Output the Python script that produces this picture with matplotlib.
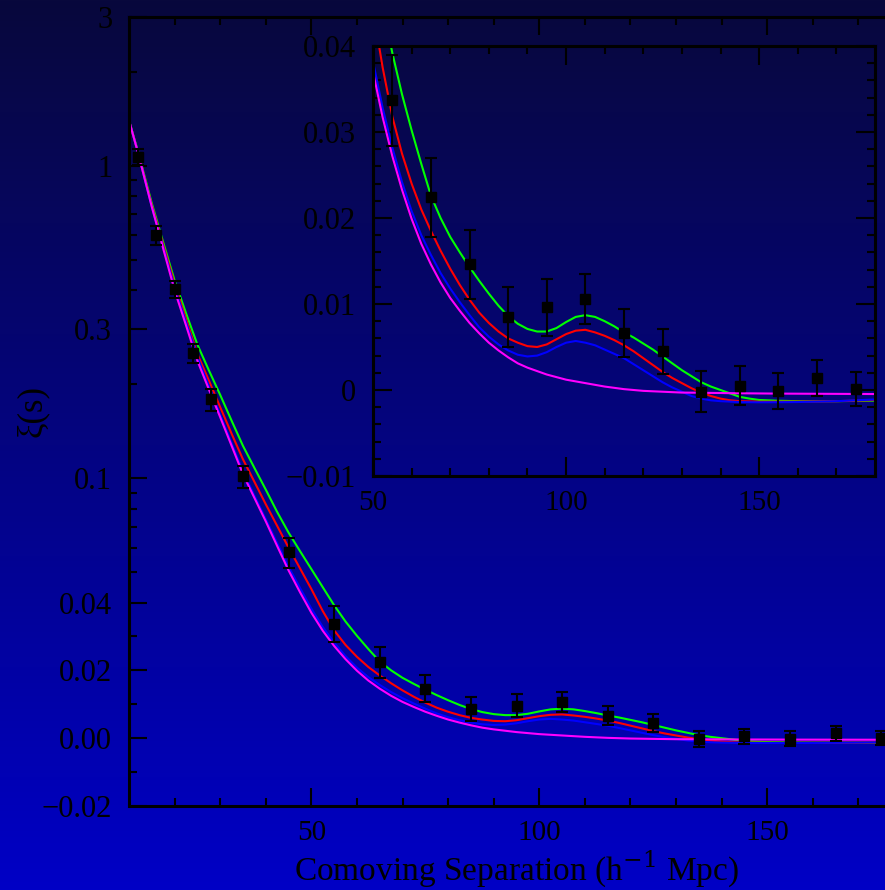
import numpy as np
import matplotlib
matplotlib.use("Agg")
import matplotlib.pyplot as plt

plt.rcParams['font.family'] = ['Liberation Serif', 'DejaVu Serif']
plt.rcParams['mathtext.fontset'] = 'dejavuserif'

# measured correlation function (points with error bars)
sep = [12, 16, 20, 24, 28, 35, 45, 55, 65, 75, 85, 95, 105, 115, 125, 135, 145, 155, 165, 175]
xi = [1.07, 0.60, 0.404, 0.251, 0.179, 0.1015, 0.058, 0.0337, 0.0224, 0.0146, 0.0085, 0.0096,
      0.0106, 0.0066, 0.0045, -0.0002, 0.0005, -0.0001, 0.0014, 0.0001]
xi_err = [0.065, 0.042, 0.025, 0.0175, 0.0145, 0.0083, 0.0062, 0.0053, 0.0046, 0.0040, 0.0035,
          0.0033, 0.0029, 0.0028, 0.0026, 0.0024, 0.0023, 0.0021, 0.0021, 0.0020]

# model curves
s_model = [10, 12, 15, 17.5, 20, 22.5, 25, 27.5, 30, 32.5, 35, 37.5, 40, 42.5, 45, 47.5,
           50, 52.5, 55, 57.5, 60, 62.5, 65, 67.5, 70, 72.5, 75, 77.5, 80, 82.5, 85, 87.5,
           90, 92.5, 95, 97.5, 100, 102.5, 105, 107.5, 110, 112.5, 115, 117.5, 120, 122.5,
           125, 127.5, 130, 132.5, 135, 137.5, 140, 142.5, 145, 147.5, 150, 155, 160, 170, 180]
xi_green = [1.40, 1.11, 0.76, 0.57, 0.43, 0.338, 0.268, 0.222, 0.185, 0.153, 0.127, 0.108,
            0.092, 0.078, 0.067, 0.0585, 0.0512, 0.0448, 0.0392, 0.0344, 0.0302, 0.0263,
            0.0226, 0.0200, 0.0178, 0.0160, 0.0143, 0.0127, 0.0112, 0.0098, 0.0086, 0.0077,
            0.0071, 0.0068, 0.0068, 0.0072, 0.0079, 0.0085, 0.0087, 0.0085, 0.0080, 0.0074,
            0.0067, 0.0061, 0.0054, 0.0047, 0.0039, 0.0031, 0.0023, 0.0016, 0.0009, 0.0004,
            0.0000, -0.0004, -0.0008, -0.0010, -0.00116, -0.00125, -0.0013, -0.0013, -0.00124]
xi_red = [1.40, 1.10, 0.75, 0.56, 0.42, 0.324, 0.250, 0.206, 0.169, 0.139, 0.115, 0.0975,
          0.0826, 0.0704, 0.060, 0.0515, 0.0442, 0.0375, 0.0318, 0.0275, 0.0240, 0.0210,
          0.0185, 0.0162, 0.0141, 0.0122, 0.0105, 0.0090, 0.0078, 0.0068, 0.0060, 0.0055,
          0.0051, 0.0050, 0.0053, 0.0059, 0.0065, 0.0069, 0.0070, 0.0067, 0.0063, 0.0058,
          0.0052, 0.0045, 0.0037, 0.0029, 0.0021, 0.0014, 0.0008, 0.0002, -0.0003, -0.0007,
          -0.0010, -0.0012, -0.0013, -0.00133, -0.00136, -0.00136, -0.00135, -0.0013, -0.00117]
xi_blue = [1.40, 1.10, 0.74, 0.551, 0.41, 0.317, 0.245, 0.198, 0.160, 0.1296, 0.105, 0.0881,
           0.074, 0.062, 0.052, 0.0446, 0.0382, 0.0328, 0.0282, 0.0242, 0.0208, 0.0180,
           0.0157, 0.0136, 0.0118, 0.0102, 0.0087, 0.0073, 0.0062, 0.0053, 0.0046, 0.0041,
           0.0039, 0.0040, 0.0044, 0.0050, 0.0055, 0.0057, 0.0055, 0.0052, 0.0047, 0.0042,
           0.0037, 0.0030, 0.0023, 0.0016, 0.0009, 0.0003, -0.0002, -0.0007, -0.0010, -0.0012,
           -0.0013, -0.00135, -0.0014, -0.00142, -0.00143, -0.00142, -0.0014, -0.0013, -0.0011]
xi_magenta = [1.40, 1.10, 0.74, 0.544, 0.40, 0.309, 0.238, 0.193, 0.157, 0.1272, 0.103,
              0.0866, 0.0728, 0.0607, 0.0507, 0.0432, 0.0370, 0.0317, 0.0272, 0.0233, 0.0199,
              0.0170, 0.0146, 0.0125, 0.0107, 0.0092, 0.0078, 0.0066, 0.0055, 0.0046, 0.0038,
              0.0031, 0.0026, 0.0022, 0.0018, 0.0015, 0.0012, 0.0010, 0.0008, 0.0006, 0.0004,
              0.00025, 0.0001, 0.0000, -0.0001, -0.00015, -0.0002, -0.00025, -0.0003, -0.00031,
              -0.00032, -0.00034, -0.00035, -0.00037, -0.00038, -0.00039, -0.0004, -0.00042,
              -0.00043, -0.00045, -0.00047]

main_yticks = [3, 1, 0.3, 0.1, 0.04, 0.02, 0.0, -0.02]
main_ylabels = ["3", "1", "0.3", "0.1", "0.04", "0.02", "0.00", "\u22120.02"]
main_yminor = [2, 0.9, 0.8, 0.7, 0.6, 0.5, 0.4, 0.2, 0.09, 0.08, 0.07, 0.06, 0.05,
               0.03, 0.01, -0.01]
inset_yticks = [0.04, 0.03, 0.02, 0.01, 0.0, -0.01]
inset_ylabels = ["0.04", "0.03", "0.02", "0.01", "0", "\u22120.01"]
xticks = [50, 100, 150]

fig = plt.figure(figsize=(8.85, 8.9), dpi=100)

# background gradient
bg = fig.add_axes([0, 0, 1, 1], zorder=-10)
t = np.linspace(0, 1, 300)[:, None, None]
top_c = np.array([8, 8, 60]) / 255.0
bot_c = np.array([0, 0, 198]) / 255.0
bg.imshow(top_c + (bot_c - top_c) * t, aspect='auto', extent=[0, 1, 0, 1])
bg.axis('off')


def style_axes(ax, fs, major_len):
    ax.set_facecolor('none')
    for sp in ax.spines.values():
        sp.set_linewidth(2.2)
        sp.set_color('black')
    ax.tick_params(which='both', direction='in', color='black', width=1.5,
                   labelcolor='black', labelsize=fs, pad=12)
    ax.tick_params(axis='x', labelsize=fs - 1, pad=10)
    ax.tick_params(which='major', length=major_len)
    ax.tick_params(which='minor', length=6)


def draw(ax, cap):
    ax.plot(s_model, xi_green, color='#00ff00', lw=1.5)
    ax.plot(s_model, xi_red, color='#ff0000', lw=1.5)
    ax.plot(s_model, xi_blue, color='#0000ff', lw=1.5)
    ax.plot(s_model, xi_magenta, color='#ff00ff', lw=1.5)
    ax.errorbar(sep, xi, yerr=xi_err, fmt='s', color='black', ms=6.5, capsize=cap,
                elinewidth=1.5, capthick=1.5, zorder=5)


# main panel (extends past the right edge of the figure)
ax = fig.add_axes([129 / 885, 84 / 890, 775 / 885, 789 / 890])
draw(ax, 4)
ax.set_yscale('symlog', linthresh=0.04, linscale=0.9 / np.log(10))
ax.set_xlim(10, 180)
ax.set_ylim(-0.02, 3)
ax.set_xticks(xticks, [str(v) for v in xticks])
ax.set_xticks(np.arange(20, 180, 10), minor=True)
ax.set_yticks(main_yticks, main_ylabels)
ax.set_yticks(main_yminor, minor=True)
style_axes(ax, 22, 13)
ax.tick_params(which='both', top=True, right=False)

# inset
axi = fig.add_axes([373 / 885, 414 / 890, 502 / 885, 430 / 890])
draw(axi, 4.5)
axi.set_xlim(50, 180)
axi.set_ylim(-0.01, 0.04)
axi.set_xticks(xticks, [str(v) for v in xticks])
axi.set_xticks(np.arange(60, 180, 10), minor=True)
axi.set_yticks(inset_yticks, inset_ylabels)
axi.set_yticks(np.arange(-0.008, 0.04, 0.002), minor=True)
style_axes(axi, 22, 14)
axi.tick_params(which='both', top=True, right=True)

fig.text(32 / 885, 1 - 411 / 890, "\u03be(s)", rotation=90, ha='center', va='center',
         fontsize=25, color='black')
fig.text(516 / 885, 1 - 880 / 890, r"Comoving Separation (h$^{-1}$ Mpc)", ha='center',
         va='baseline', fontsize=24, color='black')

fig.savefig("out.png", dpi=100)
